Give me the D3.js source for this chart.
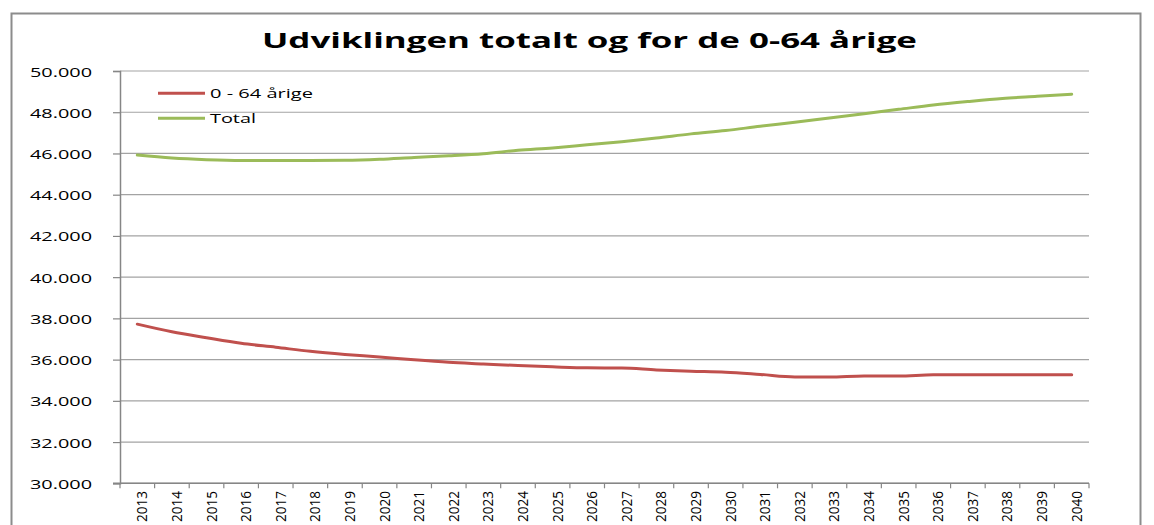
<!DOCTYPE html>
<html>
<head>
<meta charset="utf-8">
<script src="https://cdn.jsdelivr.net/npm/d3@7"></script>
<style>
  html, body { margin: 0; padding: 0; background: #fff; }
  svg { display: block; }
</style>
</head>
<body>
<div id="chart"></div>
<script>
// data
const years = d3.range(2013, 2041).map(String);
const under65 = [37720, 37350, 37060, 36790, 36600, 36400, 36250, 36130, 35990, 35870,
                 35790, 35710, 35650, 35600, 35590, 35500, 35440, 35390, 35280, 35160,
                 35160, 35210, 35210, 35260, 35260, 35260, 35260, 35260];
const total = [45920, 45780, 45700, 45660, 45660, 45660, 45670, 45720, 45810, 45890,
               45990, 46150, 46270, 46420, 46570, 46750, 46950, 47110, 47320, 47510,
               47720, 47930, 48140, 48350, 48520, 48670, 48770, 48870];
const yTicks = d3.range(30000, 50001, 2000);
const seriesNames = ['0 - 64 årige', 'Total'];
const title = 'Udviklingen totalt og for de 0-64 årige';

const W = 1154, H = 525;
const plot = { left: 120, right: 1089, top: 71, bottom: 483.3 };
const colors = ['#C0504D', '#9BBB59'];
const font = "'Open Sans', 'Noto Sans', sans-serif";

const svg = d3.select('#chart')
    .append('svg')
    .attr('width', W)
    .attr('height', H);

// chart frame
svg.append('rect')
    .attr('x', 11.5)
    .attr('y', 13.5)
    .attr('width', 1129)
    .attr('height', 600)
    .attr('fill', '#fff')
    .attr('stroke', '#8c8c8c')
    .attr('stroke-width', 2);

const x = d3.scaleBand()
    .domain(years)
    .range([plot.left, plot.right]);
const y = d3.scaleLinear()
    .domain([30000, 50000])
    .range([plot.bottom, plot.top]);

const dk = d3.formatLocale({ decimal: ',', thousands: '.', grouping: [3], currency: ['', ''] });
const fmt = dk.format(',');

// gridlines
svg.append('g')
    .selectAll('line')
    .data(yTicks)
    .enter()
    .append('line')
    .attr('x1', plot.left)
    .attr('x2', plot.right)
    .attr('y1', d => y(d))
    .attr('y2', d => y(d))
    .attr('stroke', '#a3a3a3')
    .attr('stroke-width', 1.2);

// y axis
const yAxis = svg.append('g')
    .attr('transform', `translate(${plot.left},0)`)
    .call(d3.axisLeft(y).tickValues(yTicks).tickSize(7).tickPadding(21).tickFormat(fmt));
yAxis.select('.domain').attr('stroke', '#868686').attr('stroke-width', 1.5);
yAxis.selectAll('.tick line').attr('stroke', '#868686').attr('stroke-width', 1.2);
yAxis.selectAll('.tick text')
    .attr('font-family', font)
    .attr('font-size', 12.5)
    .attr('fill', '#000')
    .attr('dy', '0.4em')
    .attr('textLength', 62)
    .attr('lengthAdjust', 'spacingAndGlyphs');

// x axis line and tick marks at band edges
svg.append('line')
    .attr('x1', plot.left - 7)
    .attr('x2', plot.right)
    .attr('y1', plot.bottom)
    .attr('y2', plot.bottom)
    .attr('stroke', '#868686')
    .attr('stroke-width', 1.5);
const edges = years.map(d => x(d)).concat([plot.right]);
svg.append('g')
    .selectAll('line')
    .data(edges)
    .enter()
    .append('line')
    .attr('x1', d => d)
    .attr('x2', d => d)
    .attr('y1', plot.bottom)
    .attr('y2', plot.bottom + 5)
    .attr('stroke', '#868686')
    .attr('stroke-width', 1.2);

// x labels, rotated (condensed so they fit above the bottom edge)
svg.append('g')
    .selectAll('text')
    .data(years)
    .enter()
    .append('text')
    .attr('transform', d => `translate(${x(d) + x.bandwidth() / 2 + 10},491) rotate(-90)`)
    .attr('text-anchor', 'end')
    .attr('font-family', font)
    .attr('font-size', 15)
    .attr('fill', '#000')
    .attr('textLength', 31)
    .attr('lengthAdjust', 'spacingAndGlyphs')
    .text(d => d);

// lines
const line = d3.line()
    .x((d, i) => x(years[i]) + x.bandwidth() / 2)
    .y(d => y(d))
    .curve(d3.curveMonotoneX);

[under65, total].forEach((s, k) => {
    svg.append('path')
        .datum(s)
        .attr('fill', 'none')
        .attr('stroke', colors[k])
        .attr('stroke-width', 3)
        .attr('stroke-linecap', 'round')
        .attr('d', line);
});

// legend
const legendRows = [{ y: 93.3, w: 103 }, { y: 118.3, w: 46 }];
seriesNames.forEach((name, k) => {
    const row = legendRows[k];
    svg.append('line')
        .attr('x1', 158)
        .attr('x2', 205)
        .attr('y1', row.y)
        .attr('y2', row.y)
        .attr('stroke', colors[k])
        .attr('stroke-width', 3);
    svg.append('text')
        .attr('x', 210)
        .attr('y', row.y + 5)
        .attr('font-family', font)
        .attr('font-size', 12.8)
        .attr('fill', '#000')
        .attr('textLength', row.w)
        .attr('lengthAdjust', 'spacingAndGlyphs')
        .text(name);
});

// title
svg.append('text')
    .attr('x', 262)
    .attr('y', 48.3)
    .attr('font-family', font)
    .attr('font-size', 21)
    .attr('font-weight', 'bold')
    .attr('fill', '#000')
    .attr('textLength', 655)
    .attr('lengthAdjust', 'spacingAndGlyphs')
    .text(title);
</script>
</body>
</html>
